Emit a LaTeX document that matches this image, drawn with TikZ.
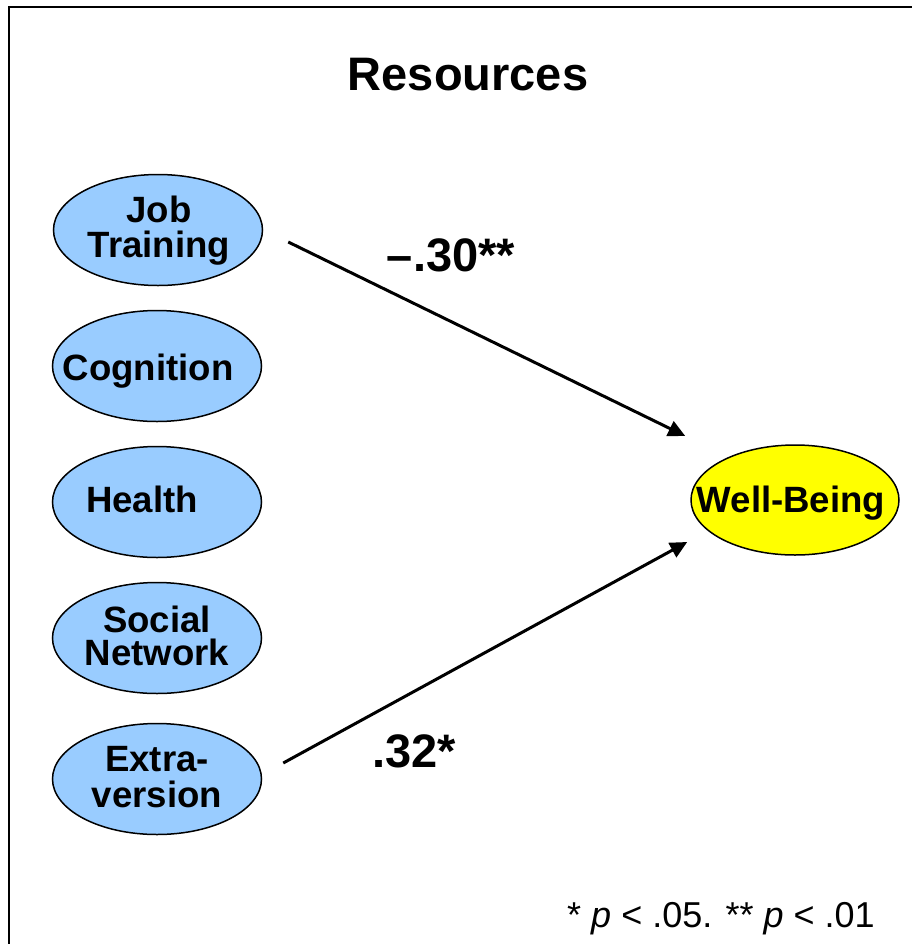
\documentclass[tikz,border=0pt]{standalone}
\usepackage{fontspec}
\setmainfont{Liberation Sans}
\usetikzlibrary{arrows.meta, shapes.geometric}
\definecolor{resblue}{HTML}{99CCFF}
\definecolor{wbyellow}{HTML}{FFFF00}

\begin{document}
\begin{tikzpicture}[
  x=0.5pt, y=-0.5pt,
  res/.style={ellipse, draw, line width=0.75pt, fill=resblue, minimum width=104.5pt, minimum height=55.5pt, inner sep=0pt},
  outcome/.style={res, fill=wbyellow, minimum width=104pt, minimum height=55pt},
  txt/.style={font=\bfseries\fontsize{18.3}{17.5}\selectfont, align=center, inner sep=0pt, anchor=base},
  coef/.style={font=\bfseries\fontsize{23.5}{23.5}\selectfont, inner sep=0pt, anchor=base},
  arr/.style={-{Triangle[length=8.5pt, width=8pt]}, line width=1.5pt}
]
\useasboundingbox (0,0) rectangle (912,944);
\draw[line width=0.75pt] (9,944) -- (9,7) -- (912,7);

\node[coef] (title) at (468,90) {Resources};

\node[res] (jt) at (158,230) {};
\node[res] (cog) at (157,366) {};
\node[res] (hl) at (157,502) {};
\node[res] (sn) at (157,638) {};
\node[res] (ex) at (157,779) {};
\node[outcome] (wb) at (795,500) {};

% text sits a little off centre in the ellipses
\node[txt] (jt-txt) at ([shift={(1,27)}]jt.center) {Job\\Training};
\node[txt] (cog-txt) at ([shift={(-9,14)}]cog.center) {Cognition};
\node[txt] (hl-txt) at ([shift={(-15,10)}]hl.center) {Health};
\node[txt] (sn-txt) at ([shift={(0,27)}]sn.center) {Social\\[-1pt]Network};
\node[txt] (ex-txt) at ([shift={(0,28)}]ex.center) {Extra-\\[0.5pt]version};
\node[txt] (wb-txt) at ([shift={(-4,12)}]wb.center) {Well-Being};

\draw[arr] ([shift={(25,12)}]jt.east) -- ([shift={(-5,-64)}]wb.west);
\draw[arr] ([shift={(21,-16)}]ex.east) -- ([shift={(-3,42)}]wb.west);

\node[coef] (c1) at (451,271) {–.30**};
\node[coef] (c2) at (414,767) {.32*};

\node[font=\fontsize{18}{18}\selectfont, inner sep=0pt, anchor=base] (note) at (721,927) {* \textit{p} < .05. ** \textit{p} < .01};
\end{tikzpicture}
\end{document}
